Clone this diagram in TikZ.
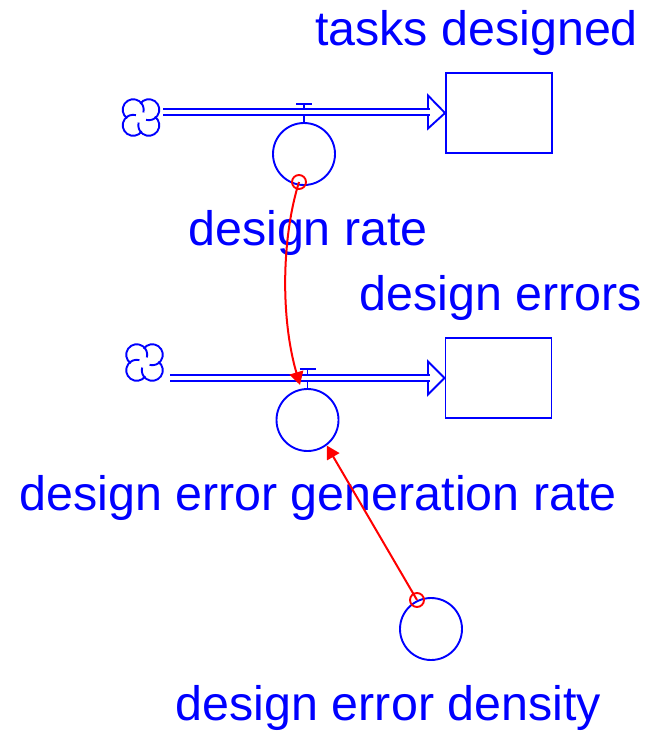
\documentclass[tikz,border=0pt]{standalone}
\usepackage{fontspec}
\setmainfont{Liberation Sans}
\usetikzlibrary{arrows.meta}
\begin{document}
\begin{tikzpicture}[x=1pt,y=-1pt,line width=1.9pt,
    stock/.style={draw=blue,minimum width=106pt,minimum height=80pt,inner sep=0pt},
    aux/.style={draw=blue,circle,minimum size=62pt,inner sep=0pt},
    lbl/.style={text=blue,anchor=base,inner sep=0pt,font=\fontsize{48.4}{58}\selectfont},
    pipe/.style={draw=blue,line width=1.9pt,double=white,double distance=4.1pt},
    valve/.style={draw=blue},
    link/.style={draw=red,line width=2pt,-{Triangle[length=13pt,width=14pt]}},
    vcloud/.pic={\foreach \a in {45,135,225,315}
        \draw[blue] (\a:11) ++(\a-100:10.5) arc[start angle=\a-100,end angle=\a+150,radius=10.5];}]
    \useasboundingbox (0,0) rectangle (647,732);
    % \helpgrid{647}{732}
    % stocks, rates, constant
    \node[stock] (tasks) at (499,113) {};
    \node[stock] (errors) at (498.5,378) {};
    \node[aux] (rate) at (304,154) {};
    \node[aux] (errrate) at (307.5,420) {};
    \node[aux] (density) at (431,629) {};
    \node[lbl] (taskslbl) at (476.5,45) {tasks designed};
    \node[lbl] (ratelbl) at (308,245) {design rate};
    \node[lbl] (errorslbl) at (501,310) {design errors};
    \node[lbl] (errratelbl) at (318,510) {design error generation rate};
    \node[lbl] (densitylbl) at (388.5,720) {design error density};
    % flow 1
    \pic at (141,117.5) {vcloud};
    \coordinate (src1) at (163,112);
    \coordinate (head1) at (430,112);
    \draw[pipe] (src1) -- (head1);
    \draw[valve] (428,109) -- (428,95.5) -- (tasks.west) -- (428,128.5) -- (428,115);
    \draw[valve] (296,104) -- (312,104) (304,104) -- (304,109) (304,115) -- (rate.north);
    % flow 2
    \pic at (144.5,362.5) {vcloud};
    \coordinate (src2) at (170,378);
    \coordinate (head2) at (430,378);
    \draw[pipe] (src2) -- (head2);
    \draw[valve] (428,375) -- (428,361.5) -- (errors.west) -- (428,394.5) -- (428,381);
    \draw[valve] (299.5,369) -- (315.5,369) (307.5,369) -- (307.5,375) (307.5,381) -- (errrate.north);
    % links
    \coordinate (ratepin) at (299,182);
    \coordinate (flowpin) at (300,385);
    \coordinate (densitypin) at (417,600);
    \draw[red] (ratepin) circle (7);
    \draw[red] (densitypin) circle (7);
    \draw[link] (ratepin) .. controls (281,240) and (281,320) .. (flowpin);
    \draw[link] (densitypin) -- (errrate.307);
\end{tikzpicture}
\end{document}
